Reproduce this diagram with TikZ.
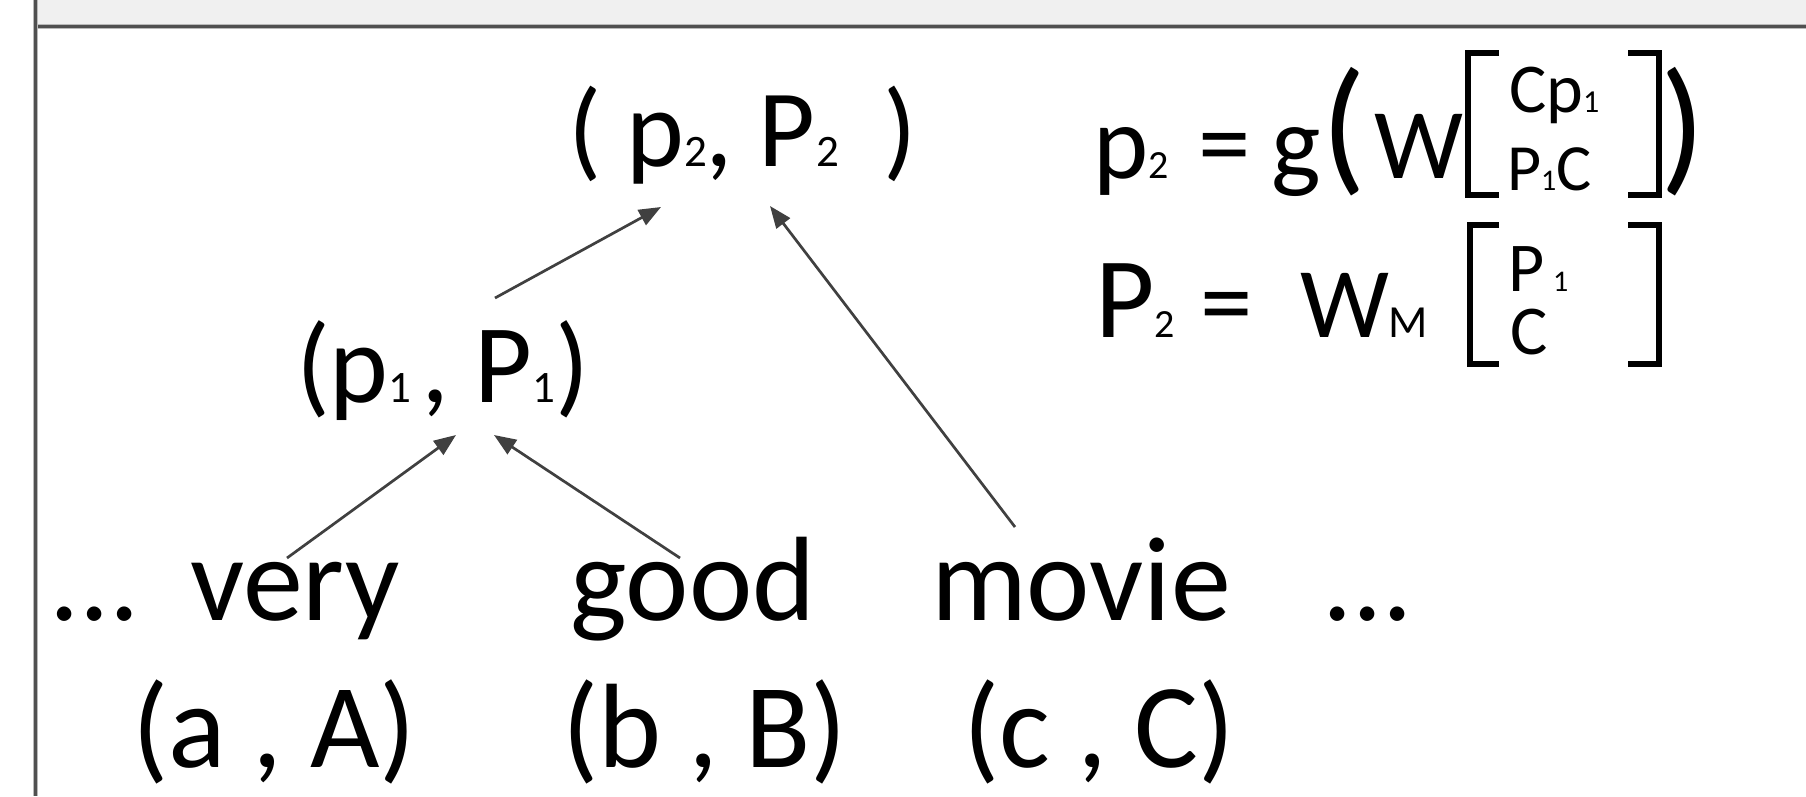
\documentclass[tikz,border=0pt]{standalone}
\usepackage{fontspec}
\setmainfont{Carlito}
\usetikzlibrary{arrows.meta}
\definecolor{arrowgray}{RGB}{64,64,64}
\definecolor{bandgray}{RGB}{240,240,240}
\definecolor{rulegray}{RGB}{80,80,80}
\definecolor{rulelight}{RGB}{185,185,185}
\newcommand\fsz[1]{\fontsize{#1}{#1}\selectfont}
\newcommand\sbs[2]{{\fsz{#1}#2}}
\begin{document}
\begin{tikzpicture}[x=1pt,y=-1pt,
  txt/.style={inner sep=0pt, outer sep=0pt, anchor=base west, text=black},
  conn/.style={draw=arrowgray, line width=2.7pt, -{Triangle[length=22pt,width=17pt]}},
  brk/.style={draw=black, line width=6pt, line join=miter, line cap=butt}]
\useasboundingbox (0,0) rectangle (1806,796);
\fill[white] (0,0) rectangle (1806,796);
% top band of the slide window
\fill[bandgray] (36,0) rectangle (1806,25);
\draw[rulelight, line width=5pt] (36,26.3) -- (1806,26.3);
\draw[rulegray, line width=2.4pt] (36,26.3) -- (1806,26.3);
\draw[rulelight, line width=4.5pt] (35.6,0) -- (35.6,796);
\draw[rulegray, line width=2.4pt] (35.6,0) -- (35.6,796);

% tree nodes
\node[txt] (top) at (568,166) {\fsz{110}( p\sbs{45}{2}\hspace{-1pt}, P\hspace{2pt}\sbs{45}{2}\hspace{44pt})};
\node[txt] (mid) at (296,402) {\fsz{112}(p\sbs{45}{1}\hspace{10pt}, P\sbs{45}{1})};

% words
\node[txt] (dl) at (49,620) {\fsz{120}...};
\node[txt] (very) at (190,620) {\fsz{120}very};
\node[txt] (good) at (570,620) {\fsz{120}good};
\node[txt] (movie) at (931,620) {\fsz{120}movie};
\node[txt] (dr) at (1322,620) {\fsz{120}...};

\node[txt] (aA) at (132,767) {\fsz{120}(a , A)};
\node[txt] (bB) at (562,767) {\fsz{120}(b , B)};
\node[txt] (cC) at (963,767) {\fsz{120}(c , C)};

% arrows
\coordinate (s1) at (495,298);
\coordinate (t1) at (661,207);
\coordinate (s2) at (1015,527);
\coordinate (t2) at (770,206);
\coordinate (s3) at (287,558);
\coordinate (t3) at (456,435);
\coordinate (s4) at (680,558);
\coordinate (t4) at (494,435);
\draw[conn] (s1) -- (t1);
\draw[conn] (s2) -- (t2);
\draw[conn] (s3) -- (t3);
\draw[conn] (s4) -- (t4);

% equation line 1
\node[txt] (e1p) at (1093,178) {\fsz{105}p\sbs{40}{2}};
\node[txt] (e1eq) at (1198,178) {\fsz{105}=};
\node[txt] (e1g) at (1271,178) {\fsz{105}g};
\node[txt] (e1lp) at (1321,175) {\fsz{148}(};
\node[txt] (e1W) at (1374,178) {\fsz{100}W};
\draw[brk] (1499,53) -- (1468,53) -- (1468,195) -- (1499,195);
\node[txt] (e1top) at (1509,112) {\fsz{70}Cp\sbs{32}{1}};
\node[txt] (e1bot) at (1507,190) {\fsz{66}P\sbs{30}{1}C};
\draw[brk] (1628,53) -- (1659,53) -- (1659,195) -- (1628,195);
\node[txt] (e1rp) at (1660,175) {\fsz{148})};

% equation line 2
\node[txt] (e2P) at (1095,337) {\fsz{115}P\sbs{40}{2}};
\node[txt] (e2eq) at (1200,337) {\fsz{105}=};
\node[txt] (e2W) at (1300,337) {\fsz{100}W\sbs{46}{M}};
\draw[brk] (1499,225) -- (1470,225) -- (1470,364) -- (1499,364);
\node[txt] (e2vec) at (1508,291) {\fontsize{70}{59}\selectfont\begin{tabular}[t]{@{}l@{}}P\hspace{9pt}\sbs{30}{1}\\ \hspace{2pt}C\end{tabular}};
\draw[brk] (1628,225) -- (1659,225) -- (1659,364) -- (1628,364);
\end{tikzpicture}
\end{document}
